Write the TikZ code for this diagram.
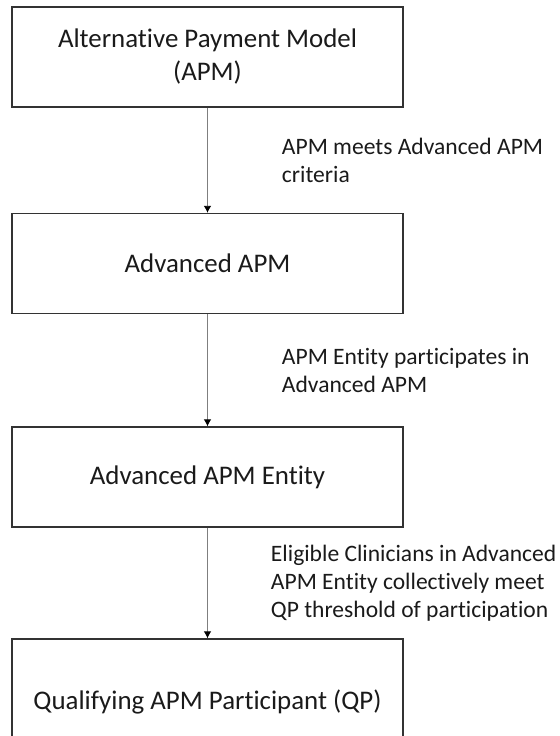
\documentclass[tikz,border=0pt]{standalone}
\usepackage{fontspec}
\setmainfont{Carlito}[RawFeature={-liga;-clig;-calt;-dlig;-rlig}]
\usepackage{xcolor}
\usepackage{tikz}
\usetikzlibrary{positioning,arrows.meta}

\definecolor{boxline}{HTML}{333333}
\definecolor{arrowline}{HTML}{7F7F7F}
\definecolor{textcol}{HTML}{1A1A1A}

\begin{document}
\begin{tikzpicture}[
    box/.style={draw=boxline, line width=0.8pt, minimum width=7.82cm, minimum height=2cm,
        align=center, text=textcol, font=\fontsize{15.3}{18.8}\selectfont},
    flow/.style={draw=arrowline, line width=0.55pt, -{Latex[length=4pt, width=4.4pt, color=black]}},
    lbl/.style={anchor=west, inner sep=0pt, align=left, text=textcol,
        font=\fontsize{13.4}{15.9}\selectfont}
]
    \useasboundingbox (0, 0) rectangle (11.2, -14.72);

    % Boxes
    \node [box] (apm) at (4.15, -1.14) {Alternative Payment Model\\(APM)};
    \node [box] (adv) at (4.15, -5.27) {Advanced APM};
    \node [box] (entity) at (4.15, -9.54) {Advanced APM Entity};
    \node [box, minimum height=2.52cm] (qp) at (4.15, -14.04) {Qualifying APM Participant (QP)};

    % Arrows
    \draw [flow] (apm) -- node [lbl, xshift=1.48cm] (crit) {APM meets Advanced APM\\criteria} (adv);
    \draw [flow] (adv) -- node [lbl, xshift=1.48cm] (part) {APM Entity participates in\\Advanced APM} (entity);
    \draw [flow] (entity) -- node [lbl, xshift=1.26cm] (thresh) {Eligible Clinicians in Advanced\\APM Entity collectively meet\\QP threshold of participation} (qp);
\end{tikzpicture}
\end{document}
